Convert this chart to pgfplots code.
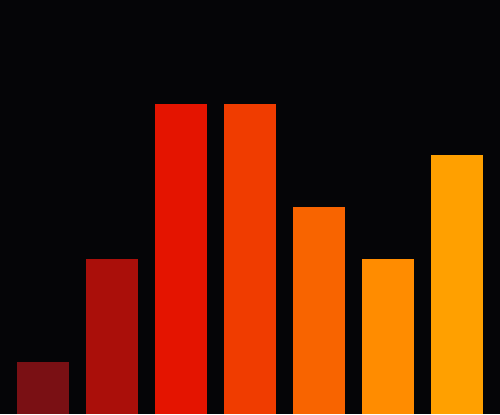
\documentclass[border=0pt]{standalone}
\usepackage{pgfplots}
\pgfplotsset{compat=1.18}
\definecolor{bg}{HTML}{050507}
\definecolor{c1}{HTML}{7A1014}
\definecolor{c2}{HTML}{AA0F0A}
\definecolor{c3}{HTML}{E41400}
\definecolor{c4}{HTML}{F03C00}
\definecolor{c5}{HTML}{F86400}
\definecolor{c6}{HTML}{FF8C00}
\definecolor{c7}{HTML}{FFA000}
\begin{document}
\begin{tikzpicture}
  \fill[bg] (0,0) rectangle (10cm,8.28cm);
  \begin{axis}[
      at={(0,0)}, anchor=south west,
      scale only axis,
      width=10cm, height=8.28cm,
      hide axis,
      xmin=-0.623, xmax=6.623,
      ymin=0, ymax=8,
      ybar, bar width=0.7536, bar shift=0pt,
      every axis plot/.append style={draw=none},
    ]
    \addplot[fill=c1] coordinates {(0,1)};
    \addplot[fill=c2] coordinates {(1,3)};
    \addplot[fill=c3] coordinates {(2,6)};
    \addplot[fill=c4] coordinates {(3,6)};
    \addplot[fill=c5] coordinates {(4,4)};
    \addplot[fill=c6] coordinates {(5,3)};
    \addplot[fill=c7] coordinates {(6,5)};
  \end{axis}
\end{tikzpicture}
\end{document}
